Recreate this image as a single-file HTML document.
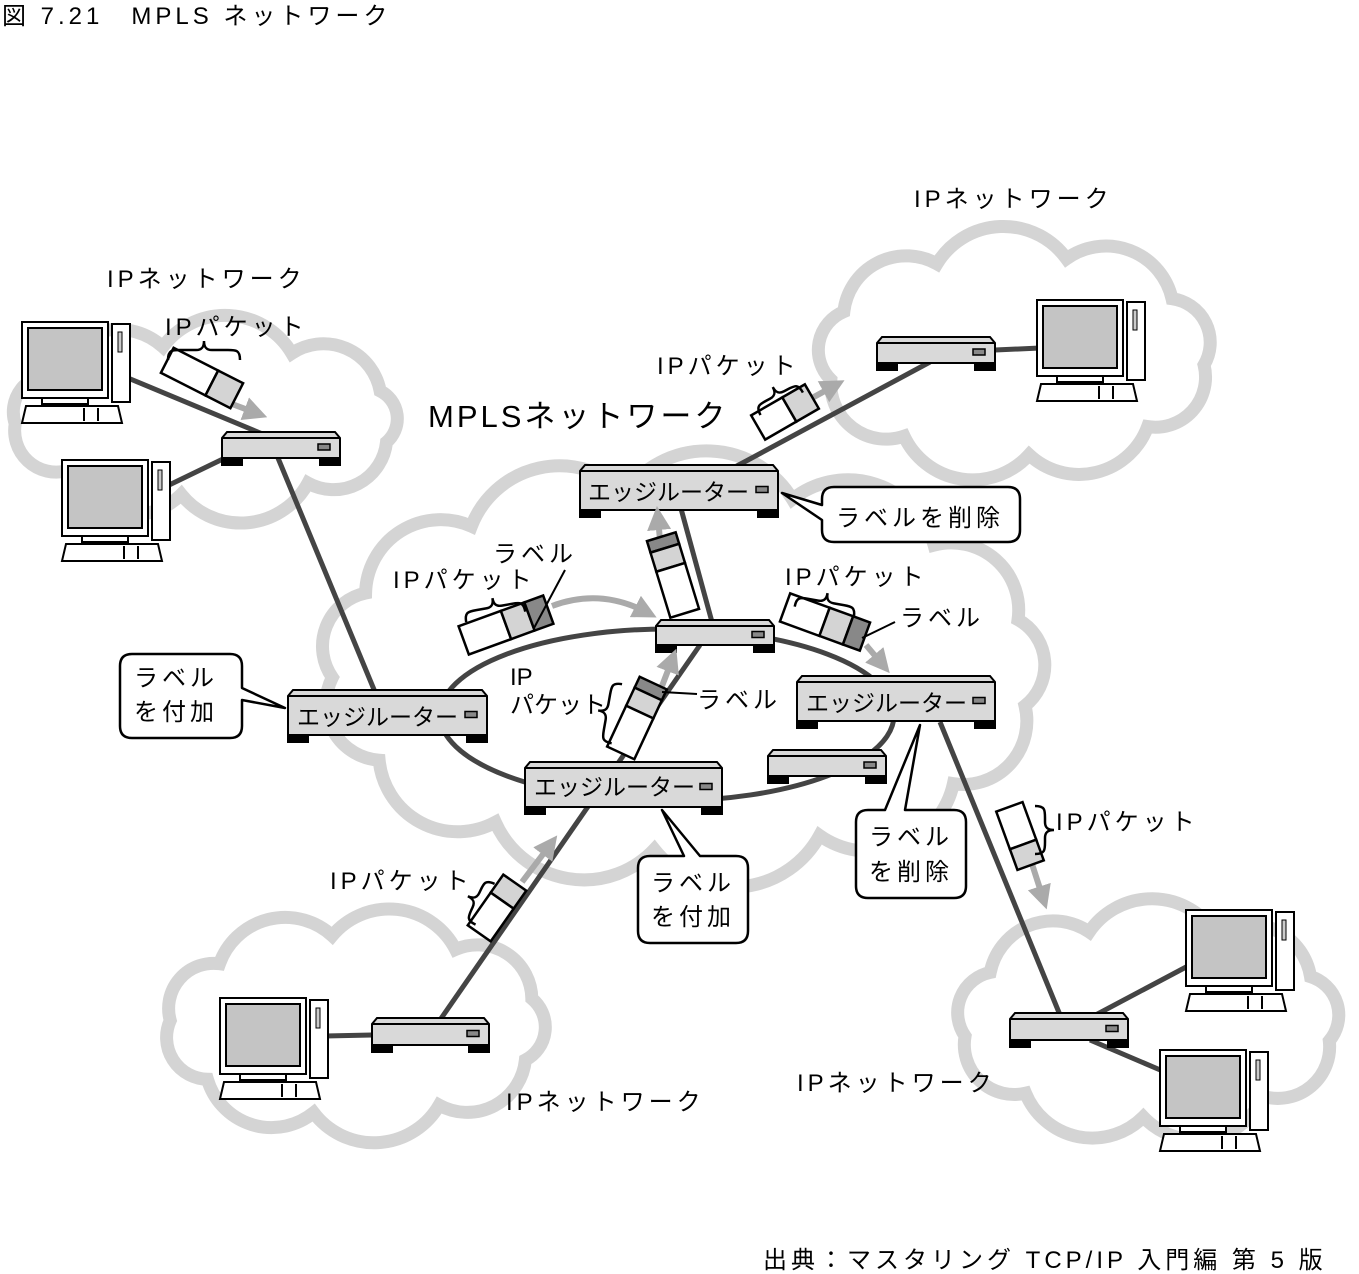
<!DOCTYPE html>
<html><head><meta charset="utf-8">
<style>
html,body{margin:0;padding:0;background:#fff;}
svg{display:block;}
text{font-family:"Liberation Sans","Noto Sans CJK JP",sans-serif;fill:#000;}
.w{letter-spacing:4px;}
</style></head>
<body>
<svg id="s" width="1359" height="1274" viewBox="0 0 1359 1274" xmlns="http://www.w3.org/2000/svg">
<defs>
<marker id="ah" markerWidth="4" markerHeight="4" refX="2" refY="2" orient="auto" markerUnits="strokeWidth">
<path d="M0,0 L4,2 L0,4 Z" fill="#aaa"/></marker>
</defs>
<g id="clouds" fill="none" stroke="#d4d4d4" stroke-width="13"></g>
<g id="lines" stroke="#444" stroke-width="5" fill="none">
<ellipse cx="667" cy="715" rx="227" ry="86"/>
<line x1="128" y1="378" x2="265" y2="435"/>
<line x1="165" y1="487" x2="225" y2="458"/>
<line x1="278" y1="458" x2="375" y2="692"/>
<line x1="680" y1="505" x2="712" y2="622"/>
<line x1="440" y1="1020" x2="700" y2="645"/>
<line x1="735" y1="467" x2="930" y2="362"/>
<line x1="995" y1="350" x2="1040" y2="348"/>
<line x1="940" y1="722" x2="1060" y2="1015"/>
<line x1="1090" y1="1018" x2="1188" y2="966"/>
<line x1="1090" y1="1040" x2="1165" y2="1072"/>
<line x1="372" y1="1035" x2="325" y2="1036"/>
</g>
<g id="dev"></g>
<g id="arrows" stroke="#aaa" stroke-width="6" fill="none" marker-end="url(#ah)">
<line x1="232" y1="404" x2="256" y2="413"/>
<line x1="812" y1="398" x2="834" y2="386"/>
<path d="M552,606 Q600,588 646,612"/>
<line x1="660" y1="540" x2="658" y2="518"/>
<line x1="662" y1="686" x2="672" y2="660"/>
<line x1="866" y1="645" x2="882" y2="664"/>
<line x1="522" y1="882" x2="550" y2="845"/>
<line x1="1032" y1="864" x2="1043" y2="898"/>
</g>
<g id="pk"></g>
<g id="callouts" fill="#fff" stroke="#000" stroke-width="2.5" stroke-linejoin="round">
<path d="M834,487 H1008 Q1020,487 1020,499 V530 Q1020,542 1008,542 H834 Q822,542 822,530 V520 L782,493 L822,505 V499 Q822,487 834,487 Z"/>
<path d="M132,654 H230 Q242,654 242,666 V688 L285,708 L242,700 V726 Q242,738 230,738 H132 Q120,738 120,726 V666 Q120,654 132,654 Z"/>
<path d="M650,856 H684 L662,810 L700,856 H736 Q748,856 748,868 V931 Q748,943 736,943 H650 Q638,943 638,931 V868 Q638,856 650,856 Z"/>
<path d="M868,810 H885 L920,725 L905,810 H954 Q966,810 966,822 V886 Q966,898 954,898 H868 Q856,898 856,886 V822 Q856,810 868,810 Z"/>
</g>
<g font-size="24">
<text class="w" x="2" y="24">図 7.21　MPLS ネットワーク</text>
<text class="w" x="107" y="287">IPネットワーク</text>
<text class="w" x="165" y="335">IPパケット</text>
<text class="w" x="914" y="207">IPネットワーク</text>
<text class="w" x="657" y="374">IPパケット</text>
<text x="428" y="427" font-size="31" letter-spacing="3">MPLSネットワーク</text>
<text x="588" y="500" font-size="23">エッジルーター</text>
<text class="w" x="836" y="526">ラベルを削除</text>
<text class="w" x="493" y="562">ラベル</text>
<text class="w" x="393" y="588">IPパケット</text>
<text class="w" x="785" y="585">IPパケット</text>
<text class="w" x="900" y="626">ラベル</text>
<text class="w" x="134" y="686">ラベル</text>
<text class="w" x="134" y="720">を付加</text>
<text x="297" y="725" font-size="23">エッジルーター</text>
<text x="510" y="685">IP</text>
<text x="510" y="713">パケット</text>
<text class="w" x="697" y="708">ラベル</text>
<text x="806" y="711" font-size="23">エッジルーター</text>
<text x="534" y="795" font-size="23">エッジルーター</text>
<text class="w" x="869" y="845">ラベル</text>
<text class="w" x="869" y="880">を削除</text>
<text class="w" x="1056" y="830">IPパケット</text>
<text class="w" x="330" y="889">IPパケット</text>
<text class="w" x="651" y="891">ラベル</text>
<text class="w" x="651" y="925">を付加</text>
<text class="w" x="797" y="1091">IPネットワーク</text>
<text class="w" x="506" y="1110">IPネットワーク</text>
<text class="w" x="763" y="1268">出典：マスタリング TCP/IP 入門編 第 5 版</text>
</g>
<line x1="662" y1="692" x2="697" y2="694" stroke="#000" stroke-width="2"/>
<line x1="534" y1="628" x2="565" y2="570" stroke="#000" stroke-width="2"/>
<line x1="862" y1="638" x2="895" y2="622" stroke="#000" stroke-width="2"/>
</svg>
<script>
var NS="http://www.w3.org/2000/svg";
function el(p,t,a){var e=document.createElementNS(NS,t);for(var k in a)e.setAttribute(k,a[k]);p.appendChild(e);return e;}
function cloud(cx,cy,rx,ry,n,ph){
 var pts=[];for(var i=0;i<n;i++){var a=ph+i*2*Math.PI/n;pts.push([cx+rx*Math.cos(a),cy+ry*Math.sin(a)]);}
 var d="M"+pts[0][0]+","+pts[0][1];
 for(var i=1;i<=n;i++){var p=pts[i%n],q=pts[i-1];var c=Math.hypot(p[0]-q[0],p[1]-q[1]);d+=" A"+(c*0.6)+","+(c*0.6)+" 0 0 1 "+p[0]+","+p[1];}
 el(document.getElementById("clouds"),"path",{d:d+"Z"});
}
cloud(205,420,190,75,9,0.3);
cloud(1015,355,190,100,9,0.1);
cloud(682,670,350,180,13,0.2);
cloud(355,1025,185,90,9,0.4);
cloud(1148,1022,185,95,9,0.2);
var dev=document.getElementById("dev");
function router(x,y,w,h){
 var g=el(dev,"g",{stroke:"#000","stroke-width":"2"});
 el(g,"rect",{x:x,y:y+h,width:20,height:7,fill:"#000"});
 el(g,"rect",{x:x+w-20,y:y+h,width:20,height:7,fill:"#000"});
 el(g,"path",{d:"M"+(x+5)+","+y+" H"+(x+w-5)+" L"+(x+w)+","+(y+6)+" V"+(y+h)+" H"+x+" V"+(y+6)+" Z",fill:"#d9d9d9"});
 el(g,"line",{x1:x,y1:y+6,x2:x+w,y2:y+6});
 el(g,"rect",{x:x+w-22,y:y+h/2-1,width:12,height:6,fill:"#888","stroke-width":"1.5"});
}
router(222,432,118,26);router(288,690,199,45);router(580,465,198,45);router(656,620,118,25);
router(797,676,198,45);router(768,750,118,26);router(525,762,197,45);router(877,337,118,26);
router(372,1018,117,27);router(1010,1013,118,27);
function comp(x,y){
 var g=el(dev,"g",{stroke:"#000","stroke-width":"2"});
 el(g,"rect",{x:x,y:y,width:86,height:76,fill:"#fff"});
 el(g,"rect",{x:x+6,y:y+6,width:74,height:62,fill:"#c4c4c4"});
 el(g,"rect",{x:x+20,y:y+76,width:46,height:6,fill:"#fff"});
 el(g,"rect",{x:x+90,y:y+2,width:18,height:78,fill:"#fff"});
 el(g,"rect",{x:x+96,y:y+10,width:4,height:20,fill:"#ccc","stroke-width":"1"});
 el(g,"path",{d:"M"+(x+4)+","+(y+84)+" H"+(x+96)+" L"+(x+100)+","+(y+101)+" H"+x+" Z",fill:"#fff"});
 el(g,"line",{x1:x+62,y1:y+86,x2:x+62,y2:y+99});el(g,"line",{x1:x+76,y1:y+86,x2:x+76,y2:y+99});
}
comp(22,322);comp(62,460);comp(1037,300);comp(1186,910);comp(1160,1050);comp(220,998);
var pk=document.getElementById("pk");
function packet(cx,cy,ang,h,segs,vert){
 var L=0;segs.forEach(function(s){L+=s[0];});
 var g=el(pk,"g",{transform:"translate("+cx+","+cy+") rotate("+ang+")",stroke:"#000","stroke-width":"2.5"});
 var o=-L/2;segs.forEach(function(s){
  if(vert)el(g,"rect",{x:-h/2,y:o,width:h,height:s[0],fill:s[1]});
  else el(g,"rect",{x:o,y:-h/2,width:s[0],height:h,fill:s[1]});o+=s[0];});
}
var W="#fff",Lg="#d4d4d4",D="#888";
packet(202,378,27,28,[[50,W],[28,Lg]]);
packet(785,412,-30,28,[[36,W],[26,Lg]]);
packet(506,625,-20,30,[[45,W],[25,Lg],[20,D]]);
packet(673,575,-17,30,[[12,D],[20,Lg],[48,W]],true);
packet(825,622,20,30,[[42,W],[25,Lg],[18,D]]);
packet(637,718,25,30,[[12,D],[20,Lg],[45,W]],true);
packet(497,908,35,28,[[22,Lg],[40,W]],true);
packet(1020,836,-20,28,[[40,W],[22,Lg]],true);
function brace(cx,cy,w,ang){
 var a=w/2;var d="M"+(-a)+",10 C"+(-a)+",0 "+(-a+4)+",0 "+(-a+12)+",0 L-8,0 C-2,0 0,-3 0,-9 C0,-3 2,0 8,0 L"+(a-12)+",0 C"+(a-4)+",0 "+a+",0 "+a+",10";
 el(pk,"path",{d:d,transform:"translate("+cx+","+cy+") rotate("+ang+")",fill:"none",stroke:"#000","stroke-width":"2.5"});
}
brace(204,350,72,0);brace(777,395,48,-28);brace(494,607,60,-10);brace(826,602,60,10);
brace(607,712,60,-80);brace(476,900,45,-65);brace(1045,830,48,90);
</script>
</body></html>
